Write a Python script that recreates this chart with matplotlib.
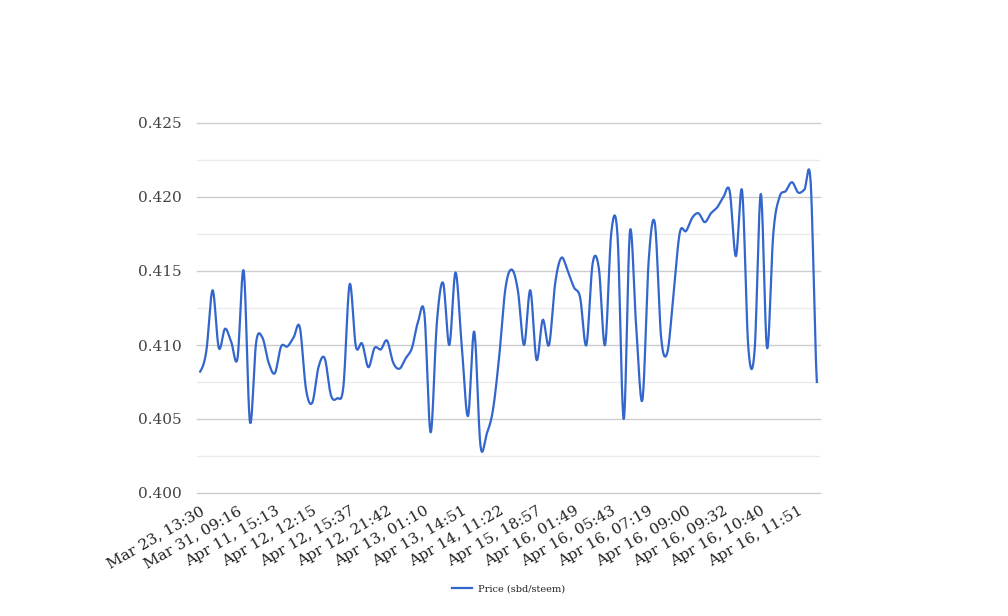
import numpy as np
import matplotlib
matplotlib.use("Agg")
import matplotlib.pyplot as plt

# price series, one value per trade (100 points)
price = [
    0.4082, 0.4096, 0.4137, 0.4098, 0.4111, 0.4102, 0.4091, 0.4150, 0.4048, 0.4102,
    0.4105, 0.4088, 0.4081, 0.4099, 0.4099, 0.4105, 0.4112, 0.4070, 0.4061, 0.4085,
    0.4091, 0.4066, 0.4064, 0.4072, 0.4141, 0.4099, 0.4101, 0.4085, 0.4098, 0.4097,
    0.4103, 0.4088, 0.4084, 0.4091, 0.4098, 0.4116, 0.4121, 0.4041, 0.4115, 0.4142,
    0.4100, 0.4149, 0.4099, 0.4052, 0.4109, 0.4032, 0.4040, 0.4056, 0.4092, 0.4138,
    0.4151, 0.4137, 0.4100, 0.4137, 0.4090, 0.4117, 0.4100, 0.4142, 0.4159, 0.4150,
    0.4139, 0.4132, 0.4100, 0.4155, 0.4152, 0.4100, 0.4176, 0.4174, 0.4050, 0.4177,
    0.4112, 0.4063, 0.4157, 0.4182, 0.4105, 0.4095, 0.4135, 0.4176, 0.4177, 0.4186,
    0.4189, 0.4183, 0.4189, 0.4193, 0.4200, 0.4204, 0.4160, 0.4204, 0.4098, 0.4096,
    0.4202, 0.4098, 0.4175, 0.4200, 0.4204, 0.4210, 0.4203, 0.4205, 0.4210, 0.4075,
]

# labels shown on the x axis (every 6th point)
tick_labels = [
    "Mar 23, 13:30", "Mar 31, 09:16", "Apr 11, 15:13", "Apr 12, 12:15",
    "Apr 12, 15:37", "Apr 12, 21:42", "Apr 13, 01:10", "Apr 13, 14:51",
    "Apr 14, 11:22", "Apr 15, 18:57", "Apr 16, 01:49", "Apr 16, 05:43",
    "Apr 16, 07:19", "Apr 16, 09:00", "Apr 16, 09:32", "Apr 16, 10:40",
    "Apr 16, 11:51",
]
label_step = 6

y_major = [0.400, 0.405, 0.410, 0.415, 0.420, 0.425]
y_minor = [0.4025, 0.4075, 0.4125, 0.4175, 0.4225]


def smooth(x, y, n=20):
    # catmull-rom style curve through the points
    x = np.asarray(x, float)
    y = np.asarray(y, float)
    xp = np.concatenate([[x[0]], x, [x[-1]]])
    yp = np.concatenate([[y[0]], y, [y[-1]]])
    t = np.linspace(0, 1, n, endpoint=False)
    xs, ys = [], []
    for i in range(1, len(xp) - 2):
        p0, p1, p2, p3 = yp[i - 1], yp[i], yp[i + 1], yp[i + 2]
        c1 = p1 + (p2 - p0) / 6
        c2 = p2 - (p3 - p1) / 6
        b = ((1 - t) ** 3) * p1 + 3 * ((1 - t) ** 2) * t * c1 + 3 * (1 - t) * t ** 2 * c2 + t ** 3 * p2
        xs.append(xp[i] + (xp[i + 1] - xp[i]) * t)
        ys.append(b)
    xs.append([x[-1]])
    ys.append([y[-1]])
    return np.concatenate(xs), np.concatenate(ys)


idx = np.arange(len(price))
sx, sy = smooth(idx, price)

fig = plt.figure(figsize=(10.08, 6.16), dpi=100)
ax = fig.add_axes([197 / 1008, 1 - 493 / 616, 623 / 1008, 370 / 616])

ax.plot(sx, sy, color="#3366cc", linewidth=1.6, label="Price (sbd/steem)", zorder=3)

ax.set_xlim(-0.5, len(price) - 0.5)
ax.set_ylim(0.400, 0.425)
ax.set_yticks(y_major)
ax.set_yticks(y_minor, minor=True)
ax.grid(axis="y", which="major", color="#cccccc", linewidth=1)
ax.grid(axis="y", which="minor", color="#ebebeb", linewidth=1)
for gl in ax.get_ygridlines():
    gl.set_clip_on(False)  # keep the 0.400 line fully visible
ax.set_axisbelow(True)
for s in ax.spines.values():
    s.set_visible(False)

ax.set_xticks(idx[::label_step])
ax.set_xticklabels(tick_labels, rotation=30, ha="right", rotation_mode="anchor",
                   family="DejaVu Serif", fontsize=11, color="#222222")
ax.set_yticklabels(["%.3f" % v for v in y_major],
                   family="DejaVu Serif", fontsize=11, color="#444444")
ax.tick_params(axis="both", which="both", length=0)
ax.tick_params(axis="y", pad=11)
ax.tick_params(axis="x", pad=8)

leg = fig.legend(loc="center", bbox_to_anchor=(508.5 / 1008, 1 - 589 / 616), frameon=False,
                 prop={"family": "DejaVu Serif", "size": 7}, handlelength=2.0, handletextpad=0.6)
for t in leg.get_texts():
    t.set_color("#222222")

fig.savefig("out.png", dpi=100)
